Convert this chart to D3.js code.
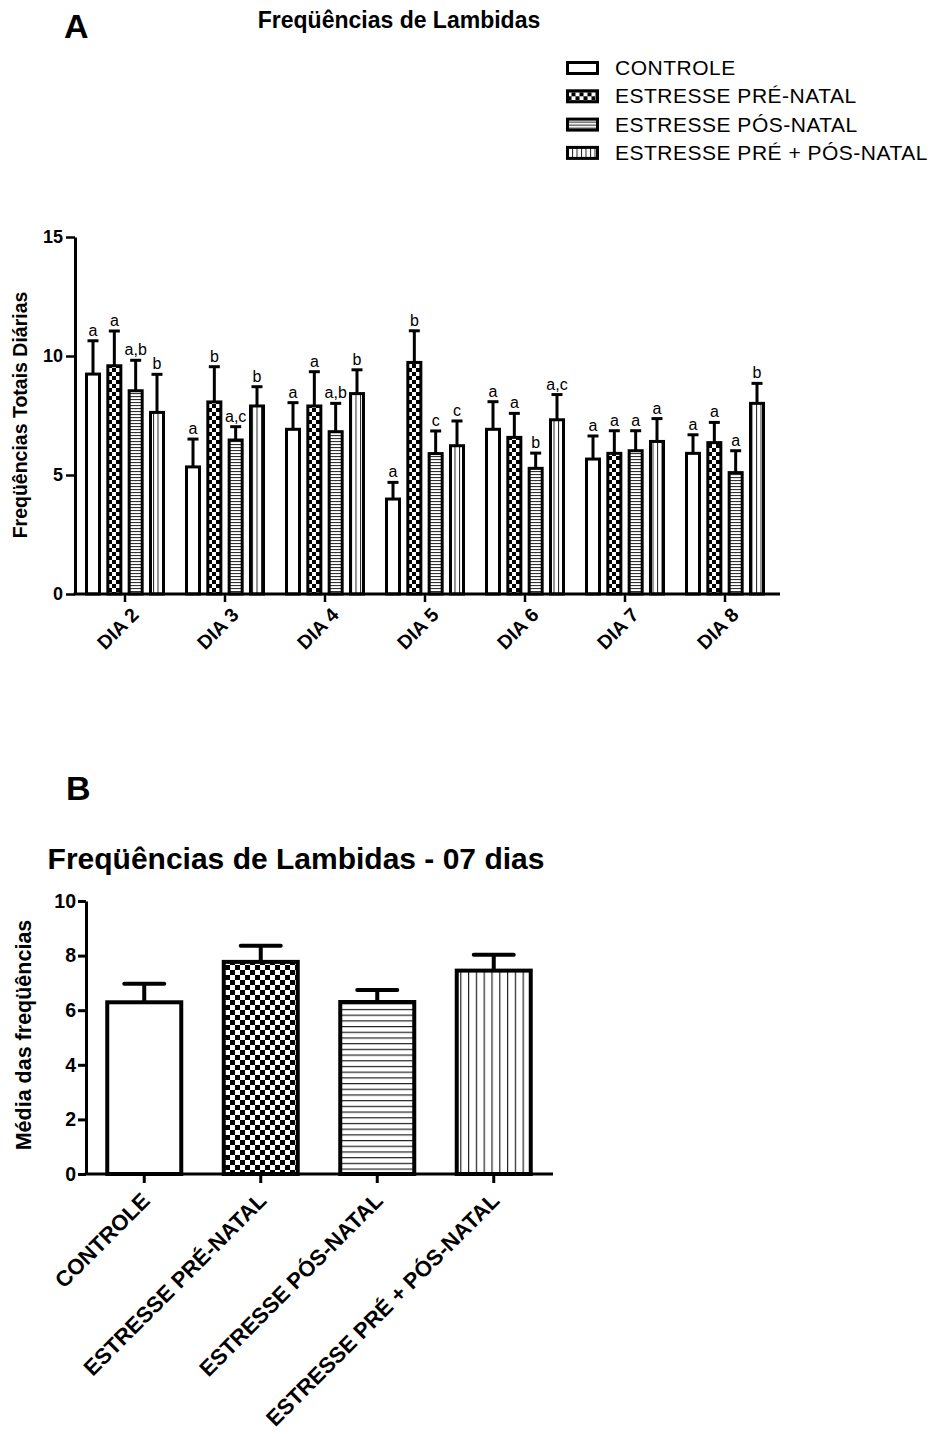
<!DOCTYPE html>
<html>
<head>
<meta charset="utf-8">
<script src="https://cdn.jsdelivr.net/npm/d3@7"></script>
<style>
  body { margin: 0; background: #fff; }
  svg { display: block; }
  text { font-family: "Liberation Sans", Arial, Helvetica, sans-serif; fill: #000; }
</style>
</head>
<body>
<svg id="fig" width="939" height="1437"></svg>
<script>
// ---- data ----
const days = ["DIA 2", "DIA 3", "DIA 4", "DIA 5", "DIA 6", "DIA 7", "DIA 8"];
const groups = ["CONTROLE", "ESTRESSE PRÉ-NATAL", "ESTRESSE PÓS-NATAL", "ESTRESSE PRÉ + PÓS-NATAL"];

// daily licking frequencies (mean, upper SEM) per group
const controleDaily    = [9.24, 5.34, 6.92, 3.99, 6.92, 5.67, 5.91];
const preNatalDaily    = [9.59, 8.07, 7.90, 9.73, 6.58, 5.91, 6.36];
const posNatalDaily    = [8.54, 6.47, 6.82, 5.90, 5.28, 6.02, 5.10];
const prePosDaily      = [7.63, 7.90, 8.42, 6.23, 7.32, 6.41, 8.01];

const controleDailyErr = [1.40, 1.17, 1.12, 0.70, 1.16, 0.97, 0.78];
const preNatalDailyErr = [1.46, 1.48, 1.44, 1.33, 1.01, 0.95, 0.85];
const posNatalDailyErr = [1.28, 0.56, 1.19, 0.95, 0.64, 0.84, 0.92];
const prePosDailyErr   = [1.60, 0.81, 1.00, 1.04, 1.06, 0.96, 0.84];

// significance letters over each bar
const controleLetters = ["a", "a", "a", "a", "a", "a", "a"];
const preNatalLetters = ["a", "b", "a", "b", "a", "a", "a"];
const posNatalLetters = ["a,b", "a,c", "a,b", "c", "b", "a", "a"];
const prePosLetters   = ["b", "b", "b", "c", "a,c", "a", "b"];

// 7-day mean per group
const weekMeans = [6.29, 7.77, 6.30, 7.45];
const weekErr   = [0.68, 0.59, 0.44, 0.58];

const yTicksA = [0, 5, 10, 15];
const yTicksB = [0, 2, 4, 6, 8, 10];

// ---- drawing ----
const svg = d3.select("#fig");
const defs = svg.append("defs");
const FONT = "'Liberation Sans', Arial, Helvetica, sans-serif";

function checker(id, s) {
  const p = defs.append("pattern").attr("id", id).attr("patternUnits", "userSpaceOnUse")
    .attr("width", 2 * s).attr("height", 2 * s);
  p.append("rect").attr("width", 2 * s).attr("height", 2 * s).attr("fill", "#fff");
  p.append("rect").attr("width", s).attr("height", s).attr("fill", "#000");
  p.append("rect").attr("x", s).attr("y", s).attr("width", s).attr("height", s).attr("fill", "#000");
}
function hlines(id, gap, w, col) {
  const p = defs.append("pattern").attr("id", id).attr("patternUnits", "userSpaceOnUse")
    .attr("width", 10).attr("height", gap);
  p.append("rect").attr("width", 10).attr("height", gap).attr("fill", "#fff");
  p.append("rect").attr("y", 0).attr("width", 10).attr("height", w).attr("fill", col);
}
function vlines(id, gap, w, col) {
  const p = defs.append("pattern").attr("id", id).attr("patternUnits", "userSpaceOnUse")
    .attr("width", gap).attr("height", 10);
  p.append("rect").attr("width", gap).attr("height", 10).attr("fill", "#fff");
  p.append("rect").attr("x", 0).attr("width", w).attr("height", 10).attr("fill", col);
}
checker("chkA", 4);
hlines("hA", 3, 1.1, "#333");
vlines("vA", 4.5, 1, "#222");
checker("chkB", 5);
hlines("hB", 5.7, 1.2, "#222");
vlines("vB", 7.8, 1.2, "#222");

const fillsA = ["#fff", "url(#chkA)", "url(#hA)", "url(#vA)"];
const fillsB = ["#fff", "url(#chkB)", "url(#hB)", "url(#vB)"];

// ===== Panel A =====
svg.append("text").attr("x", 64).attr("y", 38)
  .style("font-size", "34px").style("font-weight", "bold").text("A");
svg.append("text").attr("x", 399).attr("y", 28).attr("text-anchor", "middle")
  .style("font-size", "23px").style("font-weight", "bold").text("Freqüências de Lambidas");

// legend
const legend = svg.append("g").attr("transform", "translate(567.5,68)");
groups.forEach((g, i) => {
  const row = legend.append("g").attr("transform", `translate(0,${i * 28.3})`);
  row.append("rect").attr("x", 0).attr("y", -5.5).attr("width", 30).attr("height", 11)
    .attr("fill", fillsA[i]).attr("stroke", "#000").attr("stroke-width", 3);
  row.append("text").attr("x", 47.5).attr("y", 7).style("font-size", "21px")
    .style("letter-spacing", "0.5px").text(g);
});

const meansA = [controleDaily, preNatalDaily, posNatalDaily, prePosDaily];
const errsA = [controleDailyErr, preNatalDailyErr, posNatalDailyErr, prePosDailyErr];
const lettersA = [controleLetters, preNatalLetters, posNatalLetters, prePosLetters];
const barsA = [];
days.forEach((d, di) => groups.forEach((g, gi) => barsA.push({
  day: d, group: g, gi, mean: meansA[gi][di], err: errsA[gi][di], letter: lettersA[gi][di]
})));

const xA = d3.scaleBand().domain(days).range([75, 775]);
const xInA = d3.scaleBand().domain(groups).range([11.5, 88.5]).paddingInner(0.39);
const yA = d3.scaleLinear().domain([0, 15]).range([594, 237]);

const gA = svg.append("g");
const bA = gA.selectAll("g.bar").data(barsA).join("g").attr("class", "bar");
bA.append("rect")
  .attr("x", d => xA(d.day) + xInA(d.group))
  .attr("y", d => yA(d.mean))
  .attr("width", xInA.bandwidth())
  .attr("height", d => yA(0) - yA(d.mean))
  .attr("fill", d => fillsA[d.gi]).attr("stroke", "#000").attr("stroke-width", 3);
const cxA = d => xA(d.day) + xInA(d.group) + xInA.bandwidth() / 2;
bA.append("line")
  .attr("x1", cxA).attr("x2", cxA)
  .attr("y1", d => yA(d.mean)).attr("y2", d => yA(d.mean + d.err))
  .attr("stroke", "#000").attr("stroke-width", 3);
bA.append("line")
  .attr("x1", d => cxA(d) - 5.5).attr("x2", d => cxA(d) + 5.5)
  .attr("y1", d => yA(d.mean + d.err)).attr("y2", d => yA(d.mean + d.err))
  .attr("stroke", "#000").attr("stroke-width", 3);
bA.append("text")
  .attr("x", cxA).attr("y", d => yA(d.mean + d.err) - 5)
  .attr("text-anchor", "middle").style("font-size", "16px").text(d => d.letter);

// axes A
const axYA = svg.append("g").attr("transform", "translate(75,0)")
  .call(d3.axisLeft(yA).tickValues(yTicksA).tickSize(9).tickSizeOuter(0).tickPadding(3));
axYA.select(".domain").attr("stroke-width", 3);
axYA.selectAll(".tick line").attr("stroke-width", 2.5);
axYA.selectAll(".tick text").style("font-size", "18px").style("font-weight", "bold")
  .style("font-family", FONT);

const axXA = svg.append("g").attr("transform", "translate(0,594)")
  .call(d3.axisBottom(xA).tickSize(8).tickSizeOuter(0));
axXA.select(".domain").remove();
axXA.append("line").attr("x1", xA.range()[0] - 1.5).attr("x2", xA.range()[1] + 5)
  .attr("stroke", "#000").attr("stroke-width", 3);
axXA.selectAll(".tick line").attr("stroke-width", 2.5);
axXA.selectAll(".tick text")
  .attr("x", 0).attr("y", 0).attr("dy", null)
  .attr("text-anchor", "end")
  .attr("transform", "translate(15,22) rotate(-45)")
  .style("font-size", "19.5px").style("font-weight", "bold")
  .style("font-family", FONT);

svg.append("text").attr("transform", "translate(27,415) rotate(-90)")
  .attr("text-anchor", "middle").style("font-size", "19.5px").style("font-weight", "bold")
  .text("Freqüências Totais Diárias");

// ===== Panel B =====
svg.append("text").attr("x", 66).attr("y", 800)
  .style("font-size", "34px").style("font-weight", "bold").text("B");
svg.append("text").attr("x", 296).attr("y", 869).attr("text-anchor", "middle")
  .style("font-size", "30px").style("font-weight", "bold").text("Freqüências de Lambidas - 07 dias");

const barsB = groups.map((g, gi) => ({ group: g, gi, mean: weekMeans[gi], err: weekErr[gi] }));
const xB = d3.scaleBand().domain(groups).range([86, 552]);
const yB = d3.scaleLinear().domain([0, 10]).range([1174, 901]);
const barWB = 74;
const cxB = d => xB(d.group) + xB.bandwidth() / 2;

const bB = svg.append("g").selectAll("g.bar").data(barsB).join("g").attr("class", "bar");
bB.append("rect")
  .attr("x", d => cxB(d) - barWB / 2).attr("y", d => yB(d.mean))
  .attr("width", barWB).attr("height", d => yB(0) - yB(d.mean))
  .attr("fill", d => fillsB[d.gi]).attr("stroke", "#000").attr("stroke-width", 4);
bB.append("line")
  .attr("x1", cxB).attr("x2", cxB)
  .attr("y1", d => yB(d.mean)).attr("y2", d => yB(d.mean + d.err))
  .attr("stroke", "#000").attr("stroke-width", 4);
bB.append("line")
  .attr("x1", d => cxB(d) - 20).attr("x2", d => cxB(d) + 20)
  .attr("y1", d => yB(d.mean + d.err)).attr("y2", d => yB(d.mean + d.err))
  .attr("stroke", "#000").attr("stroke-width", 4).attr("stroke-linecap", "round");

const axYB = svg.append("g").attr("transform", "translate(86,0)")
  .call(d3.axisLeft(yB).tickValues(yTicksB).tickSize(8).tickSizeOuter(0).tickPadding(2));
axYB.select(".domain").attr("stroke-width", 3);
axYB.selectAll(".tick line").attr("stroke-width", 3);
axYB.selectAll(".tick text").style("font-size", "19.5px").style("font-weight", "bold")
  .style("font-family", FONT);

const axXB = svg.append("g").attr("transform", "translate(0,1174)")
  .call(d3.axisBottom(xB).tickSize(9).tickSizeOuter(0));
axXB.select(".domain").remove();
axXB.append("line").attr("x1", xB.range()[0] - 1.5).attr("x2", xB.range()[1] + 1)
  .attr("stroke", "#000").attr("stroke-width", 3);
axXB.selectAll(".tick line").attr("stroke-width", 3);
axXB.selectAll(".tick text")
  .attr("x", 0).attr("y", 0).attr("dy", null)
  .attr("text-anchor", "end")
  .attr("transform", "translate(7,28) rotate(-45)")
  .style("font-size", "22px").style("font-weight", "bold")
  .style("font-family", FONT);

svg.append("text").attr("transform", "translate(31,1035) rotate(-90)")
  .attr("text-anchor", "middle").style("font-size", "21.5px").style("font-weight", "bold")
  .text("Média das freqüências");
</script>
</body>
</html>
